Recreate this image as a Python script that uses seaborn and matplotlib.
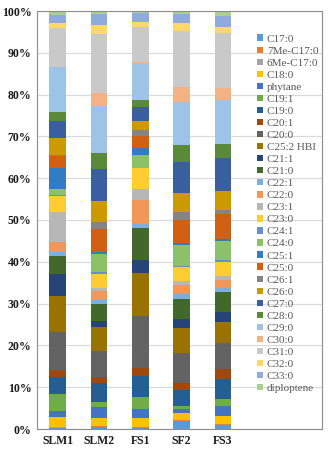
import numpy as np
import pandas as pd
import matplotlib
matplotlib.use("Agg")
import matplotlib.pyplot as plt
from matplotlib.patches import Patch
from matplotlib.ticker import PercentFormatter
import seaborn as sns

samples = ["SLM1", "SLM2", "FS1", "SF2", "FS3"]
compounds = ["C17:0", "7Me-C17:0", "6Me-C17:0", "C18:0", "phytane", "C19:1", "C19:0",
             "C20:1", "C20:0", "C25:2 HBI", "C21:1", "C21:0", "C22:1", "C22:0", "C23:1",
             "C23:0", "C24:1", "C24:0", "C25:1", "C25:0", "C26:1", "C26:0", "C27:0",
             "C28:0", "C29:0", "C30:0", "C31:0", "C32:0", "C33:0", "diploptene"]

# relative abundance (%) per compound, same order as compounds
slm1 = [0.2, 0.1, 0.1, 2.4, 1.6, 4.0, 4.1, 1.8, 9.2, 8.6, 5.2, 4.4, 1.0, 2.4, 7.4,
        3.7, 0.2, 1.6, 5.0, 3.0, 0.2, 4.1, 4.1, 2.0, 10.9, 0.2, 9.4, 1.0, 2.0, 1.0]
slm2 = [0.5, 0.1, 0.1, 2.0, 2.6, 1.1, 4.6, 1.4, 6.4, 5.6, 1.4, 4.2, 0.9, 2.2, 0.8,
        3.4, 0.3, 4.4, 0.4, 5.6, 1.6, 5.0, 7.8, 3.8, 11.3, 3.2, 14.0, 2.2, 2.8, 0.6]
fs1 = [0.3, 0.1, 0.1, 2.2, 2.2, 2.9, 5.0, 2.0, 12.4, 10.4, 3.0, 7.8, 1.0, 5.8, 2.6,
       5.0, 0.1, 3.0, 1.8, 3.0, 1.4, 2.0, 3.4, 1.8, 8.6, 0.6, 8.4, 1.2, 2.0, 0.6]
sf2 = [2.0, 0.1, 0.1, 1.6, 1.0, 0.8, 3.8, 1.6, 7.2, 6.0, 2.0, 4.8, 1.2, 2.2, 1.0,
       3.4, 0.3, 4.9, 0.4, 5.5, 2.0, 4.6, 7.4, 4.0, 10.4, 3.4, 13.6, 1.9, 2.2, 0.6]
fs3 = [1.0, 0.1, 0.1, 1.9, 2.4, 1.6, 4.8, 2.6, 6.2, 5.0, 2.4, 4.8, 0.8, 2.0, 1.0,
       3.4, 0.4, 4.6, 0.4, 6.0, 1.0, 4.6, 7.8, 3.4, 10.6, 2.8, 13.2, 1.4, 2.7, 1.2]

colors = ["#5B9BD5", "#ED7D31", "#A5A5A5", "#FFC000", "#4472C4", "#70AD47",
          "#255E91", "#9E480E", "#636363", "#997300", "#264478", "#43682B",
          "#7CAFDD", "#F1975A", "#B7B7B7", "#FFCD33", "#698ED0", "#8CC168",
          "#327DC2", "#D26012", "#848484", "#CC9A00", "#3A5FA0", "#5A8A39",
          "#9DC3E6", "#F4B183", "#C9C9C9", "#FFD966", "#8FAADC", "#A9D18E"]

sns.set_style("white")
plt.rcParams["font.family"] = ["Liberation Serif", "DejaVu Serif"]

vals = np.array([slm1, slm2, fs1, sf2, fs3], dtype=float)
vals = 100 * vals / vals.sum(axis=1, keepdims=True)
tops = np.cumsum(vals, axis=1)
df = pd.DataFrame(tops, index=samples, columns=compounds).reset_index(names="sample")
df = df.melt(id_vars="sample", var_name="compound", value_name="top")

fig = plt.figure(figsize=(3.28, 4.5), dpi=100)
ax = fig.add_axes([37 / 328, 21 / 450, 285 / 328, 418 / 450])

# stacked bars: draw cumulative totals from the top series down
for comp, col in reversed(list(zip(compounds, colors))):
    sub = df[df["compound"] == comp]
    sns.barplot(data=sub, x="sample", y="top", order=samples, color=col,
                saturation=1, width=0.4, linewidth=0, errorbar=None, ax=ax, zorder=2)

ax.set_xlim(-0.5, 6.4)
ax.set_ylim(0, 100)
ax.yaxis.set_major_locator(plt.MultipleLocator(10))
ax.yaxis.set_major_formatter(PercentFormatter(decimals=0))
ax.grid(axis="y", color="#D9D9D9", linewidth=0.8, zorder=0)
ax.set_axisbelow(True)
ax.set_xlabel("")
ax.set_ylabel("")
ax.tick_params(axis="both", length=0, pad=4, labelsize=8.5, colors="#1A1A1A")
for lab in ax.get_xticklabels() + ax.get_yticklabels():
    lab.set_fontweight("bold")
for sp in ax.spines.values():
    sp.set_color("#8C8C8C")
    sp.set_linewidth(0.8)

handles = [Patch(facecolor=c, edgecolor="none") for c in colors]
leg = fig.legend(handles, compounds, loc="upper left", bbox_to_anchor=(253 / 328, 1 - 30 / 450),
                 frameon=False, fontsize=8.0, labelspacing=0.265, handlelength=0.5,
                 handleheight=0.5, handletextpad=0.35, borderaxespad=0)
for t in leg.get_texts():
    t.set_color("#595959")

fig.savefig("out.png", dpi=100)
